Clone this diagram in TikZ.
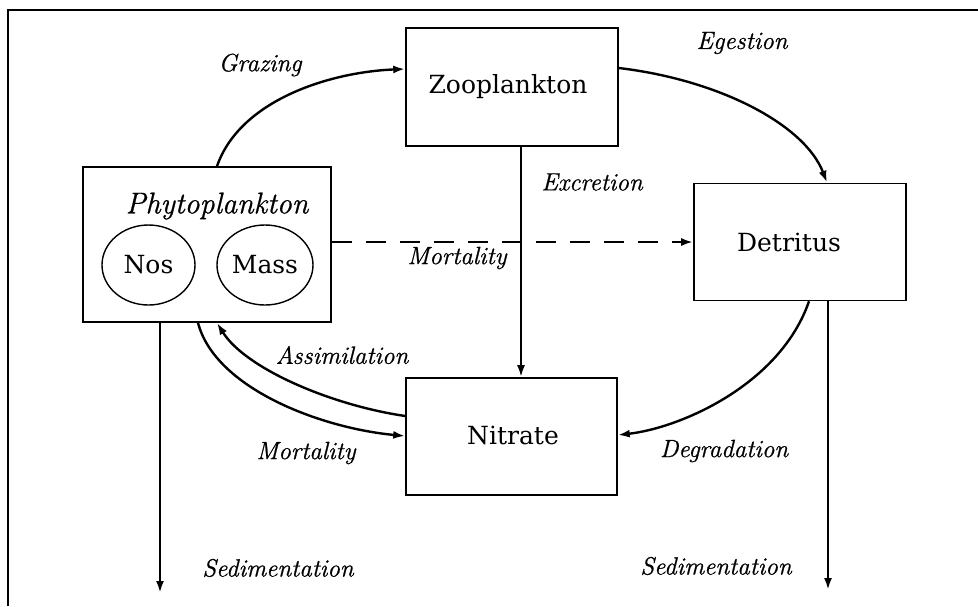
\documentclass[tikz,border=0pt]{standalone}
\usepackage{fontspec}
\setmainfont{DejaVu Serif}
\newfontfamily\lmfont{Latin Modern Roman}[FakeBold=0.8]
\usetikzlibrary{arrows.meta,shapes.geometric}
\begin{document}
\begin{tikzpicture}[x=1pt,y=-1pt,
  box/.style={draw,line width=1.6pt,inner sep=0pt},
  nodetext/.style={font=\fontsize{25}{30}\selectfont},
  lbl/.style={font=\lmfont\fontsize{25}{30}\selectfont\itshape},
  flow/.style={line width=2.4pt,-{Latex[length=12pt,width=8pt]}},
  oval/.style={draw,ellipse,line width=1.4pt,inner sep=0pt}]
\useasboundingbox (0,0) rectangle (978,606);
% frame
\draw[line width=2.8pt] (8,606) -- (8,10) -- (978,10);
% boxes
\node[box,minimum width=212pt,minimum height=118pt] (zoo) at (512,87) {};
\node[nodetext] (zootxt) at (508,87) {Zooplankton};
\node[box,minimum width=248pt,minimum height=155pt] (phyto) at (207,244.5) {};
\node[font=\lmfont\fontsize{30}{36}\selectfont\itshape] (phytotxt) at (217,206) {Phytoplankton};
\node[oval,minimum width=93pt,minimum height=80pt,nodetext] (nos) at (148.5,265) {Nos};
\node[oval,minimum width=96pt,minimum height=80pt,nodetext] (mass) at (265,265) {Mass};
\node[box,minimum width=212pt,minimum height=117pt] (det) at (800,242) {};
\node[nodetext] (dettxt) at (789,242) {Detritus};
\node[box,minimum width=211pt,minimum height=117pt] (nit) at (511.5,436.5) {};
\node[nodetext] (nittxt) at (513,435) {Nitrate};
% free ends
\coordinate (sedA) at (160,593);
\coordinate (sedB) at (828,590);
% connectors
\draw[flow] ([xshift=10pt]phyto.north) .. controls (240,100) and (330,72) .. ([yshift=18pt]zoo.west);
\draw[flow] ([yshift=19pt]zoo.east) .. controls (720,80) and (805,125) .. ([xshift=27pt]det.north);
\draw[flow] ([xshift=9pt]det.south) .. controls (780,385) and (680,428) .. ([yshift=1.5pt]nit.east);
\draw[flow] ([xshift=9pt]zoo.south) -- ([xshift=9.5pt]nit.north);
\draw[line width=2.4pt,dash pattern=on 20pt off 14pt,-{Latex[length=12pt,width=8pt]}] (phyto.east |- det.west) -- (det.west);
\draw[flow] ([yshift=20.5pt]nit.west) .. controls (330,405) and (245,368) .. ([xshift=10pt]phyto.south);
\draw[flow] ([xshift=-9pt]phyto.south) .. controls (215,388) and (320,428) .. ([yshift=0.5pt]nit.west);
\draw[flow] ([xshift=-47pt]phyto.south) -- (sedA);
\draw[flow] ([xshift=28pt]det.south) -- (sedB);
% labels
\node[lbl] (lgraz) at (260,65) {Grazing};
\node[lbl] (leges) at (742,43) {Egestion};
\node[lbl] (lexcr) at (592,182) {Excretion};
\node[lbl] (lmort1) at (457,258) {Mortality};
\node[lbl] (lassim) at (342,355) {Assimilation};
\node[lbl] (lmort2) at (306,453) {Mortality};
\node[lbl] (ldegr) at (724,451) {Degradation};
\node[lbl] (lsed1) at (278,568) {Sedimentation};
\node[lbl] (lsed2) at (716,566) {Sedimentation};
\end{tikzpicture}
\end{document}
